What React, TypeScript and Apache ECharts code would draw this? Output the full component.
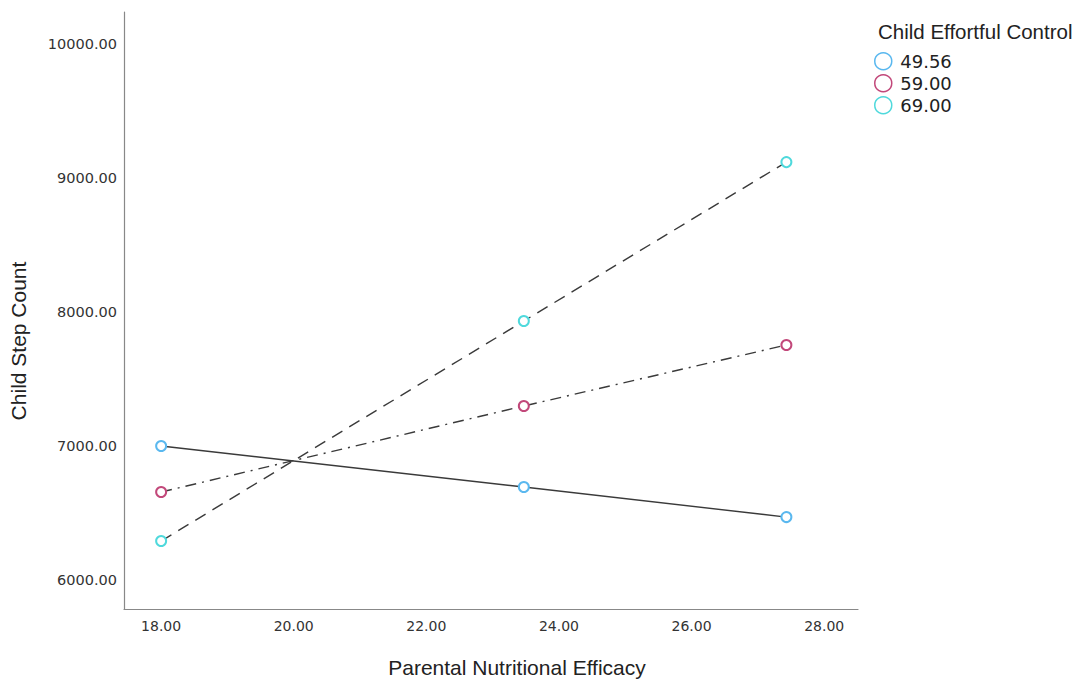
import React, { useEffect, useRef } from "react";
import * as echarts from "echarts";

const efficacyX = [18.0, 23.47, 27.43];
const groupNames = ["49.56", "59.00", "69.00"];
const steps4956 = [7000, 6694, 6470];
const steps5900 = [6657, 7299, 7754];
const steps6900 = [6291, 7933, 9119];
const yTicks = [6000, 7000, 8000, 9000, 10000];
const xTicks = [18, 20, 22, 24, 26, 28];
const markerColors = ["#5ab8ef", "#c2487a", "#4fd9dc"];

export default function App() {
  const ref = useRef<HTMLDivElement>(null);
  useEffect(() => {
    if (!ref.current) return;
    const chart = echarts.init(ref.current, null, { renderer: "svg" });
    const allSteps = [steps4956, steps5900, steps6900];
    const dashTypes: any[] = ["solid", [11, 6, 2, 6], [12, 8]];
    chart.setOption({
      animation: false,
      backgroundColor: "#ffffff",
      title: {
        text: "Child Effortful Control",
        left: 873,
        top: 16,
        textStyle: {
          fontFamily: "Liberation Sans",
          fontSize: 20.5,
          fontWeight: "normal",
          color: "#222",
        },
      },
      legend: {
        orient: "vertical",
        left: 869,
        top: 47,
        itemWidth: 24,
        itemHeight: 17,
        itemGap: 3.5,
        icon: "circle",
        textStyle: { fontFamily: "DejaVu Sans", fontSize: 18, color: "#222", lineHeight: 18 },
        data: groupNames.map((n, i) => ({
          name: n,
          itemStyle: { color: "#ffffff", borderColor: markerColors[i], borderWidth: 1.5 },
        })),
      },
      graphic: [
        {
          type: "text",
          x: 517,
          y: 667,
          style: {
            text: "Parental Nutritional Efficacy",
            fontFamily: "Liberation Sans",
            fontSize: 21,
            fill: "#222",
            align: "center",
            verticalAlign: "middle",
          },
        },
        {
          type: "text",
          x: 18,
          y: 341,
          rotation: Math.PI / 2,
          style: {
            text: "Child Step Count",
            fontFamily: "Liberation Sans",
            fontSize: 21,
            fill: "#222",
            align: "center",
            verticalAlign: "middle",
          },
        },
      ],
      grid: { left: 124, right: 218, top: 12, bottom: 70, outerBoundsMode: "none" },
      xAxis: {
        type: "value",
        min: 17.44,
        max: 28.51,
        splitLine: { show: false },
        axisTick: { show: false },
        axisLine: { lineStyle: { color: "#888", width: 1.2 } },
        axisLabel: {
          customValues: xTicks,
          formatter: (v: number) => v.toFixed(2),
          fontFamily: "DejaVu Sans",
          fontSize: 14,
          color: "#333",
          margin: 10,
        },
      },
      yAxis: {
        type: "value",
        min: 5784,
        max: 10239,
        splitLine: { show: false },
        axisTick: { show: false },
        axisLine: { show: true, lineStyle: { color: "#888", width: 1.2 } },
        axisLabel: {
          customValues: yTicks,
          formatter: (v: number) => v.toFixed(2),
          fontFamily: "DejaVu Sans",
          fontSize: 14.5,
          color: "#333",
          margin: 7,
        },
      },
      series: groupNames.map((n, i) => ({
        name: n,
        type: "line",
        data: efficacyX.map((x, j) => [x, allSteps[i][j]]),
        symbol: "emptyCircle",
        symbolSize: 10,
        itemStyle: { color: markerColors[i], borderColor: markerColors[i], borderWidth: 1.4 },
        lineStyle: { color: "#3a3a3a", width: 1.4, type: dashTypes[i] },
        z: 3 - i,
      })),
    });
    return () => chart.dispose();
  }, []);
  return (
    <div
      ref={ref}
      style={{ position: "fixed", left: 0, top: 0, width: 1076, height: 679 }}
    />
  );
}
